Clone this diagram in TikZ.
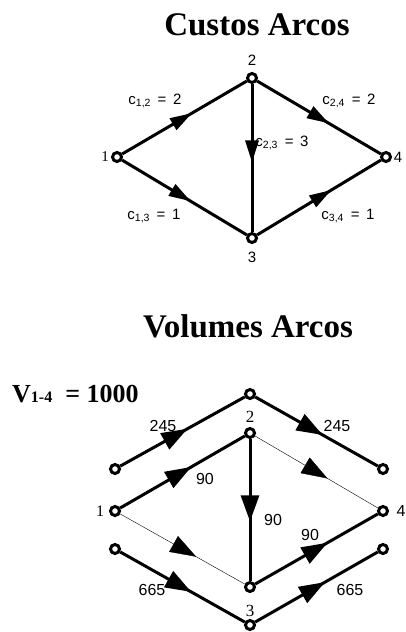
\documentclass[tikz,border=0pt]{standalone}
\usepackage{fontspec}
\setmainfont{Liberation Serif}
\setsansfont{Liberation Sans}
\usetikzlibrary{arrows.meta, decorations.markings}

\begin{document}
\begin{tikzpicture}[x=1pt, y=-1pt,
    vert/.style={draw, circle, fill=white, line width=3pt, minimum size=9pt, inner sep=0pt},
    thickedge/.style={line width=3pt},
    thinedge/.style={line width=0.4pt},
    midarr/.style={postaction={decorate}, decoration={markings, mark=at position #1 with {\arrow{Triangle[length=22pt, width=13pt]}}}},
    bigarr/.style={postaction={decorate}, decoration={markings, mark=at position #1 with {\arrow{Triangle[length=26pt, width=18pt]}}}},
    lbl/.style={font=\sffamily\fontsize{15}{15}\selectfont, inner sep=0pt},
    num/.style={font=\sffamily\fontsize{16}{16}\selectfont, inner sep=0pt},
    title/.style={font=\bfseries\fontsize{33}{33}\selectfont, inner sep=0pt, anchor=base}]
    \useasboundingbox (0,0) rectangle (406,632);

    % Custos Arcos
    \node[title] (tcustos) at (257,35) {Custos Arcos};

    \node[vert] (a1) at (117,157) {};
    \node[vert] (a2) at (252,78) {};
    \node[vert] (a3) at (252,238) {};
    \node[vert] (a4) at (386,157) {};

    \node[lbl, font=\fontsize{15}{15}\selectfont] (la1) at (105,157) {1};
    \node[lbl] (la2) at (252,60) {2};
    \node[lbl] (la3) at (252,257) {3};
    \node[lbl] (la4) at (398,157) {4};

    \draw[thickedge, midarr=0.56] (a1) -- (a2);
    \draw[thickedge, midarr=0.58] (a2) -- (a4);
    \draw[thickedge, midarr=0.55] (a1) -- (a3);
    \draw[thickedge, midarr=0.6] (a3) -- (a4);
    \draw[thickedge, midarr=0.53] (a2) -- (a3);

    \node[lbl] (c12) at (155,101) {c\textsubscript{1,2}\ \,=\ \,2};
    \node[lbl] (c24) at (349,101) {c\textsubscript{2,4}\ \,=\ \,2};
    \node[lbl] (c23) at (282,143) {c\textsubscript{2,3}\ \,=\ \,3};
    \node[lbl] (c13) at (154,216) {c\textsubscript{1,3}\ \,=\ \,1};
    \node[lbl] (c34) at (348,216) {c\textsubscript{3,4}\ \,=\ \,1};

    % Volumes Arcos
    \node[title] (tvol) at (248,337) {Volumes Arcos};
    \node[font=\bfseries\fontsize{26}{26}\selectfont, inner sep=0pt, anchor=base west] (vol) at (12,402)
        {V{\fontsize{16}{16}\selectfont 1-4}\ \ = 1000};

    \node[vert] (vt) at (250,394) {};
    \node[vert] (v2) at (250,433) {};
    \node[vert] (vlt) at (115,469) {};
    \node[vert] (vrt) at (383,469) {};
    \node[vert] (v1) at (115,511) {};
    \node[vert] (v4) at (383,511) {};
    \node[vert] (vlb) at (115,549) {};
    \node[vert] (vrb) at (383,549) {};
    \node[vert] (v3) at (250,587) {};
    \node[vert] (vb) at (250,625) {};

    \node[lbl, font=\fontsize{16}{16}\selectfont] (lv1) at (100,511) {1};
    \node[lbl, font=\fontsize{17}{17}\selectfont] (lv2) at (250,417) {2};
    \node[lbl, font=\fontsize{17}{17}\selectfont] (lv3) at (250,611) {3};
    \node[num] (lv4) at (401,511) {4};

    \draw[thickedge, bigarr=0.54] (vlt) -- (vt);
    \draw[thickedge, bigarr=0.55] (vt) -- (vrt);
    \draw[thickedge, bigarr=0.57] (v1) -- (v2);
    \draw[thinedge, bigarr=0.59] (v2) -- (v4);
    \draw[thinedge, bigarr=0.61] (v1) -- (v3);
    \draw[thickedge, bigarr=0.58] (v2) -- (v3);
    \draw[thickedge, bigarr=0.59] (v3) -- (v4);
    \draw[thickedge, bigarr=0.57] (vlb) -- (vb);
    \draw[thickedge, bigarr=0.57] (vb) -- (vrb);

    \node[num] (f1) at (163,426) {245};
    \node[num] (f2) at (337,426) {245};
    \node[num] (f3) at (205,479) {90};
    \node[num] (f4) at (273,520) {90};
    \node[num] (f5) at (310,535) {90};
    \node[num] (f6) at (152,590) {665};
    \node[num] (f7) at (350,590) {665};
\end{tikzpicture}
\end{document}
